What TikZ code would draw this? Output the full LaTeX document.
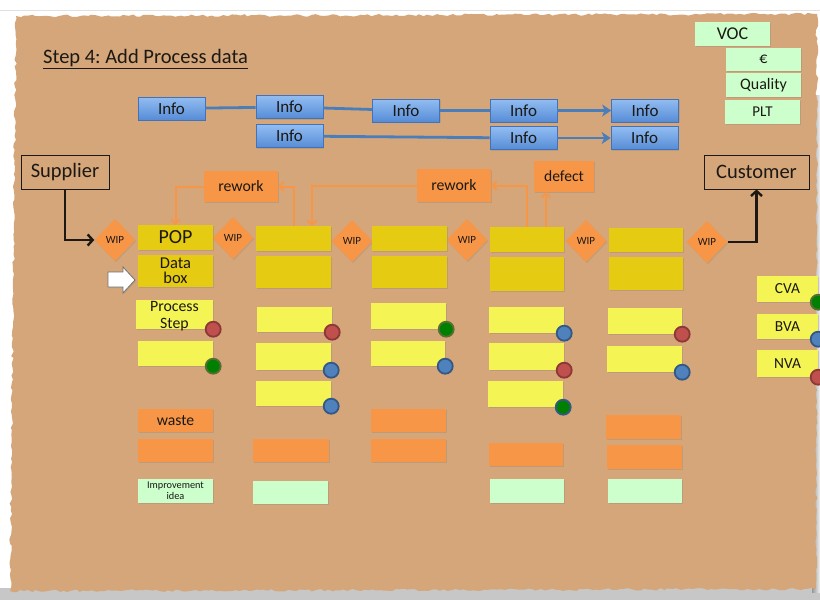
\documentclass[tikz,border=0pt]{standalone}
\usepackage{fontspec}
\setmainfont{Carlito}
\usetikzlibrary{shapes.geometric,arrows.meta,shadows,decorations.pathmorphing,calc}

\definecolor{board}{RGB}{212,166,121}
\definecolor{orangenote}{RGB}{247,150,70}
\definecolor{popyellow}{RGB}{229,203,18}
\definecolor{sticky}{RGB}{244,244,84}
\definecolor{mint}{RGB}{204,255,204}
\definecolor{infotop}{RGB}{146,189,242}
\definecolor{infobot}{RGB}{86,140,214}
\definecolor{infoedge}{RGB}{66,114,184}
\definecolor{link}{RGB}{74,126,187}
\definecolor{dotred}{RGB}{192,80,77}
\definecolor{dotredline}{RGB}{140,56,54}
\definecolor{dotblue}{RGB}{79,129,189}
\definecolor{dotblueline}{RGB}{52,88,134}
\definecolor{dotgreen}{RGB}{0,128,0}
\definecolor{dotgreenline}{RGB}{88,110,50}
\definecolor{ink}{RGB}{28,24,20}

\begin{document}
\begin{tikzpicture}[x=1pt,y=-1pt,
  wh/.style 2 args={minimum width=#1pt,minimum height=#2pt},
  card/.style={rectangle, inner sep=0pt, align=center, text=ink,
    drop shadow={shadow xshift=1pt,shadow yshift=-1.4pt,opacity=0.28}},
  info/.style={card, wh={67}{23}, draw=infoedge, line width=0.7pt,
    top color=infotop, bottom color=infobot, font=\fontsize{17}{17}\selectfont},
  metric/.style={card, fill=mint, wh={75}{24}},
  partner/.style={rectangle, draw=ink, line width=0.8pt, inner sep=0pt,
    text=ink, font=\fontsize{20.5}{20.5}\selectfont},
  wip/.style={diamond, fill=orangenote, inner sep=0pt, wh={41}{42}, text=ink,
    font=\fontsize{11}{11}\selectfont,
    drop shadow={shadow xshift=1pt,shadow yshift=-1.2pt,opacity=0.22}},
  popbox/.style={card, fill=popyellow},
  stepnote/.style={card, fill=sticky},
  wastenote/.style={card, fill=orangenote},
  ideanote/.style={card, fill=mint},
  spot/.style={circle, inner sep=0pt, minimum size=15pt, line width=1.8pt},
  reddot/.style={spot, fill=dotred, draw=dotredline},
  bluedot/.style={spot, fill=dotblue, draw=dotblueline},
  greendot/.style={spot, fill=dotgreen, draw=dotgreenline},
  link/.style={draw=link, line width=2.8pt},
  linkarrow/.style={link, -{Stealth[length=9pt,width=12pt,inset=2.5pt]}},
  flow/.style={draw=ink, line width=2.4pt, -{Straight Barb[length=5pt,width=11pt]}},
  loop/.style={draw=orangenote, line width=2pt, -{Straight Barb[length=4pt,width=9pt]}},
]
\useasboundingbox (0,0) rectangle (820,600);

% ---------- torn paper board ----------
\pgfmathsetseed{4711}
\fill[white] (0,0) rectangle (820,600);
\draw[black!12, line width=0.8pt] (0,10) -- (820,10);
\fill[black!22] (0,588) rectangle (820,600);
\shade[left color=black!40, right color=black!5] (812,95) rectangle (820,592);
\fill[board] decorate[decoration={random steps,segment length=4pt,amplitude=1.3pt}]
  {(16,16) -- (817,14) -- (816,589) -- (10,591) -- cycle};

% ---------- title ----------
\node[anchor=base west, inner sep=0pt, text=ink, font=\fontsize{20.5}{24}\selectfont\frenchspacing] (title) at (43,63)
  {\underline{Step 4: Add Process data}};

% ---------- information flow ----------
\node[info] (i1) at (171.5,108.5) {Info};
\node[info] (i2) at (289.5,107) {Info};
\node[info] (i3) at (406,110.5) {Info};
\node[info] (i4) at (523.5,110.5) {Info};
\node[info] (i5) at (645,110.5) {Info};
\node[info] (i6) at (289.5,136) {Info};
\node[info] (i7) at (523.5,138) {Info};
\node[info] (i8) at (644.5,138) {Info};
\draw[link] (i1) -- (i2);
\draw[link] (i2) -- (i3);
\draw[link] (i3) -- (i4);
\draw[linkarrow] (i4) -- (i5);
\draw[link] (i6) -- (i7);
\draw[linkarrow] (i7) -- (i8);

% ---------- customer metrics ----------
\node[metric, font=\fontsize{18}{18}\selectfont] (voc) at (732.5,33.5) {VOC};
\node[metric, wh={75}{23}, font=\fontsize{16}{16}\selectfont] (eur) at (763.5,59.5) {€};
\node[metric, font=\fontsize{16}{16}\selectfont] (qual) at (763.5,85) {Quality};
\node[metric, font=\fontsize{15}{15}\selectfont] (plt) at (762.5,112) {PLT};

% ---------- supplier / customer ----------
\node[partner, wh={88}{34}] (sup) at (65,172) {Supplier};
\node[partner, wh={105}{34}] (cust) at (756.5,172) {Customer};

% ---------- stock triangles between steps ----------
\node[wip] (w1) at (115,240) {WIP};
\node[wip] (w2) at (233,238) {WIP};
\node[wip] (w3) at (352,241) {WIP};
\node[wip] (w4) at (467,240) {WIP};
\node[wip] (w5) at (586,241) {WIP};
\node[wip] (w6) at (707,242) {WIP};

% ---------- process boxes ----------
\node[popbox, wh={75}{25}, font=\fontsize{20}{20}\selectfont] (pop) at (175.5,237.5) {POP};
\node[popbox, wh={75}{32}, font=\fontsize{16.5}{15}\selectfont] (data) at (175.5,271) {Data\\box};
\node[popbox, wh={75}{25}] (c2top) at (293.5,238.5) {};
\node[popbox, wh={75}{32}] (c2low) at (293.5,272) {};
\node[popbox, wh={75}{25}] (c3top) at (409.5,238.5) {};
\node[popbox, wh={75}{32}] (c3low) at (409.5,272) {};
\node[popbox, wh={74}{25}] (c4top) at (527,239.5) {};
\node[popbox, wh={74}{34}] (c4low) at (527,274) {};
\node[popbox, wh={74}{24}] (c5top) at (646,240) {};
\node[popbox, wh={74}{33}] (c5low) at (646,273.5) {};

% pointer to the data box
\filldraw[fill=white, draw=black!55, line width=0.8pt,
  drop shadow={shadow xshift=1pt,shadow yshift=-1.2pt,opacity=0.25}]
  (108,272) -- (123,272) -- (123,267) -- (135,280) -- (123,293) -- (123,287) -- (108,287) -- cycle;

% ---------- rework and defect loops ----------
\node[wastenote, wh={74}{31}, font=\fontsize{15.8}{15.8}\selectfont] (rw1) at (241,186.5) {rework};
\node[wastenote, wh={74}{33}, font=\fontsize{15.8}{15.8}\selectfont] (rw2) at (454,185.5) {rework};
\node[wastenote, wh={60}{31}, font=\fontsize{15.6}{15.6}\selectfont] (defect) at (564,176.5) {defect};
\draw[loop] (c2top.north) |- (rw1.east);
\draw[loop] (rw1.west) -| (pop.north);
\draw[loop] (rw2.west) -| ([xshift=18.5pt]c2top.north);
\draw[loop] (c4top.north) |- (rw2.east);
\draw[loop] ([xshift=19pt]c4top.north) -- ([xshift=19pt]c4top.north |- defect.south);

% ---------- material flow ----------
\draw[flow] (sup.south) |- (w1.west);
\draw[flow] (w6.east) -| (cust.south);

% ---------- process step notes ----------
\node[stepnote, wh={77}{29}, font=\fontsize{15.8}{17}\selectfont] (s11) at (174.5,314.5)
  {\raisebox{-5.5pt}[0pt][0pt]{\begin{tabular}{@{}c@{}}Process\\Step\end{tabular}}};
\node[stepnote, wh={75}{25}] (s12) at (175.5,353.5) {};
\node[stepnote, wh={75}{25}] (s21) at (294.5,319.5) {};
\node[stepnote, wh={75}{27}] (s22) at (293.5,356.5) {};
\node[stepnote, wh={75}{25}] (s23) at (293.5,393.5) {};
\node[stepnote, wh={75}{26}] (s31) at (408.5,316) {};
\node[stepnote, wh={74}{25}] (s32) at (408,353.5) {};
\node[stepnote, wh={75}{26}] (s41) at (526.5,320) {};
\node[stepnote, wh={75}{27}] (s42) at (526.5,356.5) {};
\node[stepnote, wh={75}{26}] (s43) at (525.5,394) {};
\node[stepnote, wh={74}{26}] (s51) at (645,321) {};
\node[stepnote, wh={75}{26}] (s52) at (644.5,359) {};

% value classification legend
\node[stepnote, wh={61}{26}, font=\fontsize{15.4}{15.4}\selectfont] (cva) at (787.5,289) {CVA};
\node[stepnote, wh={61}{25}, font=\fontsize{15.4}{15.4}\selectfont] (bva) at (787.5,326.5) {BVA};
\node[stepnote, wh={61}{27}, font=\fontsize{15.4}{15.4}\selectfont] (nva) at (787.5,363.5) {NVA};

% value markers
\node[reddot] (m11) at (s11.south east) {};
\node[greendot] (m12) at (s12.south east) {};
\node[reddot] (m21) at (s21.south east) {};
\node[bluedot] (m22) at (s22.south east) {};
\node[bluedot] (m23) at (s23.south east) {};
\node[greendot] (m31) at (s31.south east) {};
\node[bluedot] (m32) at (s32.south east) {};
\node[bluedot] (m41) at (s41.south east) {};
\node[reddot] (m42) at (s42.south east) {};
\node[greendot, draw=dotblueline] (m43) at (s43.south east) {};
\node[reddot] (m51) at (s51.south east) {};
\node[bluedot] (m52) at (s52.south east) {};
\node[greendot] (mcva) at (cva.south east) {};
\node[bluedot] (mbva) at (bva.south east) {};
\node[reddot] (mnva) at (nva.south east) {};

% ---------- waste notes ----------
\node[wastenote, wh={75}{23}, font=\fontsize{15.7}{15.7}\selectfont] (o11) at (175.5,420.5) {waste};
\node[wastenote, wh={75}{23}] (o12) at (175.5,450.5) {};
\node[wastenote, wh={76}{23}] (o21) at (291,450.5) {};
\node[wastenote, wh={75}{23}] (o31) at (408.5,420.5) {};
\node[wastenote, wh={75}{23}] (o32) at (408.5,450.5) {};
\node[wastenote, wh={74}{23}] (o41) at (526,454.5) {};
\node[wastenote, wh={75}{24}] (o51) at (643.5,427) {};
\node[wastenote, wh={75}{24}] (o52) at (644.5,457) {};

% ---------- improvement ideas ----------
\node[ideanote, wh={75}{24}, font=\fontsize{10.3}{11}\selectfont] (g1) at (175.5,491) {Improvement\\idea};
\node[ideanote, wh={75}{23}] (g2) at (290.5,492.5) {};
\node[ideanote, wh={74}{24}] (g4) at (527,491) {};
\node[ideanote, wh={74}{24}] (g5) at (645,491) {};

\end{tikzpicture}
\end{document}
